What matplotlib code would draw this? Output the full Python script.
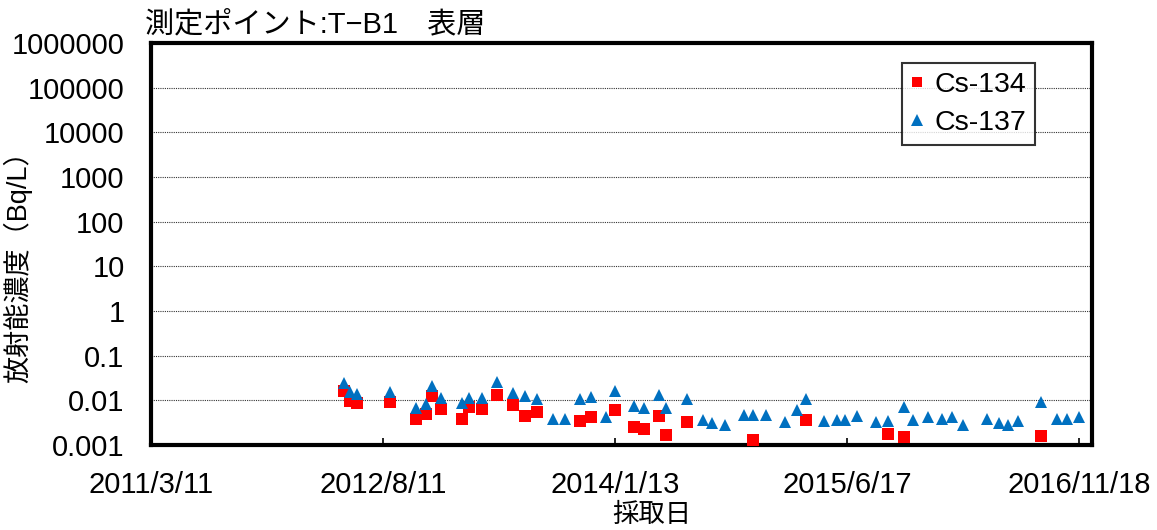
import numpy as np
import pandas as pd
import matplotlib
matplotlib.use("Agg")
import matplotlib.pyplot as plt

plt.rcParams['font.family'] = ['Liberation Sans', 'Noto Sans CJK JP', 'DejaVu Sans']

# sampling dates and concentrations (Bq/L), nan = not detected
dates = ["2012-05-16", "2012-05-29", "2012-06-14", "2012-08-27", "2012-10-24",
         "2012-11-15", "2012-11-29", "2012-12-20", "2013-02-04", "2013-02-21",
         "2013-03-21", "2013-04-24", "2013-05-29", "2013-06-26", "2013-07-22",
         "2013-08-27", "2013-09-22", "2013-10-27", "2013-11-20", "2013-12-23",
         "2014-01-14", "2014-02-24", "2014-03-19", "2014-04-21", "2014-05-08",
         "2014-06-24", "2014-07-28", "2014-08-19", "2014-09-16", "2014-10-28",
         "2014-11-17", "2014-12-16", "2015-01-29", "2015-02-24", "2015-03-17",
         "2015-04-26", "2015-05-24", "2015-06-11", "2015-07-10", "2015-08-20",
         "2015-09-16", "2015-10-23", "2015-11-12", "2015-12-15", "2016-01-15",
         "2016-02-06", "2016-03-03", "2016-04-26", "2016-05-21", "2016-06-11",
         "2016-07-04", "2016-08-24", "2016-09-28", "2016-10-21", "2016-11-18"]
nan = np.nan
cs134 = [0.016, 0.0097, 0.0089, 0.0092, 0.0039,
         0.005, 0.0125, 0.0065, 0.0038, 0.0071,
         0.0065, 0.0134, 0.0077, 0.0045, 0.0055,
         nan, nan, 0.0034, 0.0043, nan,
         0.0061, 0.0025, 0.0023, 0.0045, 0.0017,
         0.0032, nan, nan, nan, nan,
         0.0013, nan, nan, nan, 0.0036,
         nan, nan, nan, nan, nan,
         0.0018, 0.0015, nan, nan, nan,
         nan, nan, nan, nan, nan,
         nan, 0.0016, nan, nan, nan]
cs137 = [0.024, 0.0154, 0.0136, 0.0154, 0.0069,
         0.0084, 0.021, 0.0115, 0.0087, 0.0115,
         0.0115, 0.0258, 0.0147, 0.0125, 0.0109,
         0.0039, 0.0039, 0.0109, 0.0119, 0.0043,
         0.0162, 0.0073, 0.0067, 0.013, 0.0069,
         0.0109, 0.0037, 0.0031, 0.0028, 0.0048,
         0.0048, 0.0048, 0.0033, 0.006, 0.0109,
         0.0034, 0.0037, 0.0036, 0.0045, 0.0033,
         0.0034, 0.0071, 0.0036, 0.0042, 0.0038,
         0.0042, 0.0028, 0.0039, 0.0031, 0.0028,
         0.0034, 0.0092, 0.0039, 0.0039, 0.0042]

tick_dates = ["2011-03-11", "2012-08-11", "2014-01-13", "2015-06-17", "2016-11-18"]
tick_labels = ["2011/3/11", "2012/8/11", "2014/1/13", "2015/6/17", "2016/11/18"]
y_ticks = [0.001, 0.01, 0.1, 1, 10, 100, 1000, 10000, 100000, 1000000]
y_labels = ["0.001", "0.01", "0.1", "1", "10", "100", "1000", "10000", "100000", "1000000"]

x = pd.to_datetime(dates)

fig = plt.figure(figsize=(11.57, 5.30), dpi=100)
ax = fig.add_axes([0.1305, 0.1604, 0.8129, 0.7585])

ax.plot(x, cs134, linestyle='none', marker='s', ms=8.5, color='#FF0000',
        markeredgewidth=0, label='Cs-134', zorder=3)
ax.plot(x, cs137, linestyle='none', marker='^', ms=9, color='#0070C0',
        markeredgewidth=0, label='Cs-137', zorder=4)

ax.set_yscale('log')
ax.set_ylim(0.001, 1000000)
ax.set_yticks(y_ticks)
ax.set_yticklabels(y_labels)
ax.yaxis.set_minor_locator(matplotlib.ticker.NullLocator())
ax.grid(axis='y', which='major', color='#333333', linestyle=(0, (1, 1)), linewidth=0.8)

xt = pd.to_datetime(tick_dates)
ax.set_xlim(pd.Timestamp("2011-03-11"), pd.Timestamp("2016-12-15"))
ax.set_xticks(xt)
ax.set_xticklabels(tick_labels)

ax.tick_params(axis='x', direction='in', length=5, width=1.2, pad=19, labelsize=21)
ax.tick_params(axis='y', length=0, pad=19, labelsize=21)
for s in ax.spines.values():
    s.set_linewidth(3)
    s.set_color('black')

ax.set_ylabel('放射能濃度（Bq/L）', fontsize=19.5)
ax.yaxis.set_label_coords(-0.1265, 0.46)
fig.text(652 / 1157, 1 - 515 / 530, '採取日', fontsize=19, ha='center', va='center')
fig.text(145 / 1157, 1 - 24 / 530, '測定ポイント:T−B1　表層', fontsize=21,
         ha='left', va='center')

leg = ax.legend(loc='upper right', bbox_to_anchor=(0.9395, 0.95), borderaxespad=0,
                fontsize=20.5, frameon=True, fancybox=False, handlelength=0.5,
                handletextpad=0.35, borderpad=0.3, labelspacing=0.45, markerscale=0.9)
leg.get_frame().set_edgecolor('black')
leg.get_frame().set_linewidth(1.5)

fig.savefig('out.png', dpi=100)
